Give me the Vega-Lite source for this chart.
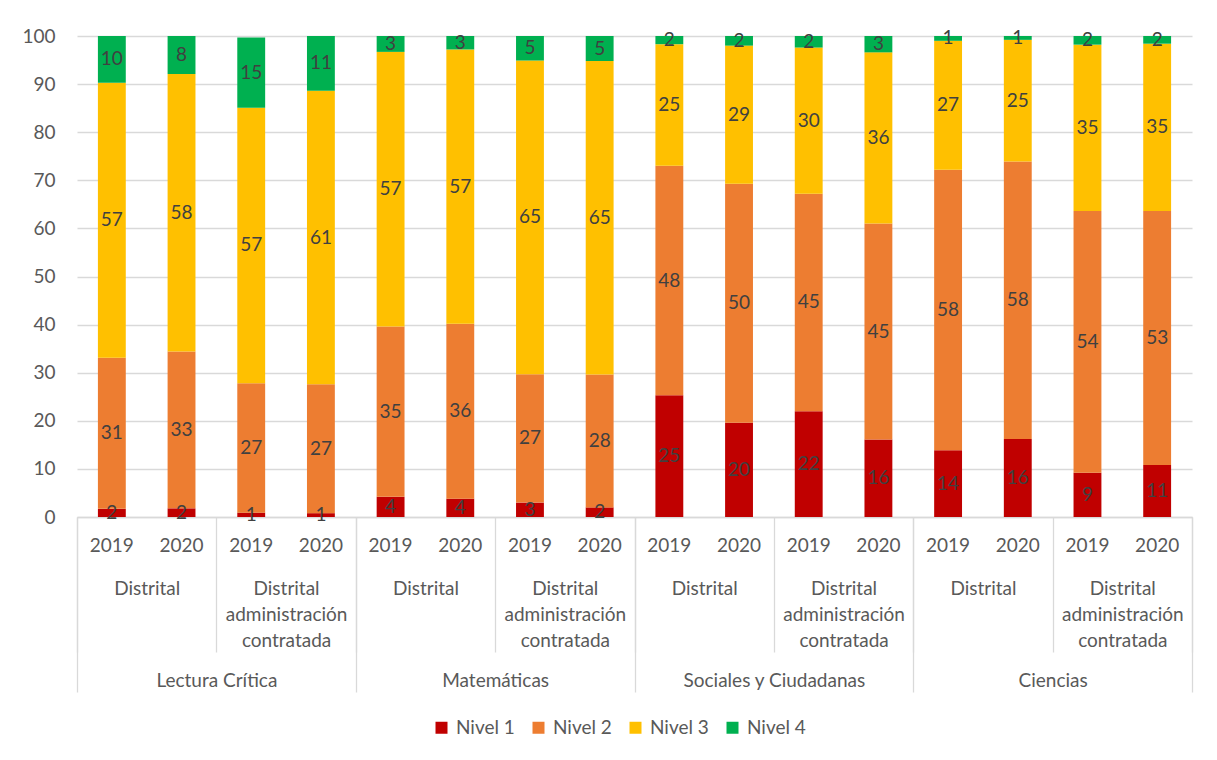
{
  "$schema": "https://vega.github.io/schema/vega-lite/v6.json",
  "width": 1115,
  "height": 481,
  "autosize": {"type": "none"},
  "padding": {"left": 77, "top": 36, "right": 25, "bottom": 243},
  "background": "white",
  "config": {
    "font": "Lato",
    "view": {"stroke": null},
    "axis": {"labelFont": "Lato", "labelFontSize": 19, "labelColor": "#595959", "title": null, "labelAngle": 0, "labelLimit": 400}
  },
  "data": {
    "values": [
      {"materia": "Lectura Crítica", "grupo": "Distrital", "anio": "2019", "nivel": "Nivel 1", "valor": 1.7},
      {"materia": "Lectura Crítica", "grupo": "Distrital", "anio": "2019", "nivel": "Nivel 2", "valor": 31.4},
      {"materia": "Lectura Crítica", "grupo": "Distrital", "anio": "2019", "nivel": "Nivel 3", "valor": 57.2},
      {"materia": "Lectura Crítica", "grupo": "Distrital", "anio": "2019", "nivel": "Nivel 4", "valor": 9.7},
      {"materia": "Lectura Crítica", "grupo": "Distrital", "anio": "2020", "nivel": "Nivel 1", "valor": 1.8},
      {"materia": "Lectura Crítica", "grupo": "Distrital", "anio": "2020", "nivel": "Nivel 2", "valor": 32.6},
      {"materia": "Lectura Crítica", "grupo": "Distrital", "anio": "2020", "nivel": "Nivel 3", "valor": 57.7},
      {"materia": "Lectura Crítica", "grupo": "Distrital", "anio": "2020", "nivel": "Nivel 4", "valor": 7.9},
      {"materia": "Lectura Crítica", "grupo": "Distrital administración contratada", "anio": "2019", "nivel": "Nivel 1", "valor": 0.9},
      {"materia": "Lectura Crítica", "grupo": "Distrital administración contratada", "anio": "2019", "nivel": "Nivel 2", "valor": 26.9},
      {"materia": "Lectura Crítica", "grupo": "Distrital administración contratada", "anio": "2019", "nivel": "Nivel 3", "valor": 57.3},
      {"materia": "Lectura Crítica", "grupo": "Distrital administración contratada", "anio": "2019", "nivel": "Nivel 4", "valor": 14.6},
      {"materia": "Lectura Crítica", "grupo": "Distrital administración contratada", "anio": "2020", "nivel": "Nivel 1", "valor": 0.8},
      {"materia": "Lectura Crítica", "grupo": "Distrital administración contratada", "anio": "2020", "nivel": "Nivel 2", "valor": 26.8},
      {"materia": "Lectura Crítica", "grupo": "Distrital administración contratada", "anio": "2020", "nivel": "Nivel 3", "valor": 61.0},
      {"materia": "Lectura Crítica", "grupo": "Distrital administración contratada", "anio": "2020", "nivel": "Nivel 4", "valor": 11.4},
      {"materia": "Matemáticas", "grupo": "Distrital", "anio": "2019", "nivel": "Nivel 1", "valor": 4.2},
      {"materia": "Matemáticas", "grupo": "Distrital", "anio": "2019", "nivel": "Nivel 2", "valor": 35.4},
      {"materia": "Matemáticas", "grupo": "Distrital", "anio": "2019", "nivel": "Nivel 3", "valor": 57.1},
      {"materia": "Matemáticas", "grupo": "Distrital", "anio": "2019", "nivel": "Nivel 4", "valor": 3.3},
      {"materia": "Matemáticas", "grupo": "Distrital", "anio": "2020", "nivel": "Nivel 1", "valor": 3.8},
      {"materia": "Matemáticas", "grupo": "Distrital", "anio": "2020", "nivel": "Nivel 2", "valor": 36.4},
      {"materia": "Matemáticas", "grupo": "Distrital", "anio": "2020", "nivel": "Nivel 3", "valor": 57.0},
      {"materia": "Matemáticas", "grupo": "Distrital", "anio": "2020", "nivel": "Nivel 4", "valor": 2.8},
      {"materia": "Matemáticas", "grupo": "Distrital administración contratada", "anio": "2019", "nivel": "Nivel 1", "valor": 3.0},
      {"materia": "Matemáticas", "grupo": "Distrital administración contratada", "anio": "2019", "nivel": "Nivel 2", "valor": 26.7},
      {"materia": "Matemáticas", "grupo": "Distrital administración contratada", "anio": "2019", "nivel": "Nivel 3", "valor": 65.2},
      {"materia": "Matemáticas", "grupo": "Distrital administración contratada", "anio": "2019", "nivel": "Nivel 4", "valor": 5.1},
      {"materia": "Matemáticas", "grupo": "Distrital administración contratada", "anio": "2020", "nivel": "Nivel 1", "valor": 2.0},
      {"materia": "Matemáticas", "grupo": "Distrital administración contratada", "anio": "2020", "nivel": "Nivel 2", "valor": 27.6},
      {"materia": "Matemáticas", "grupo": "Distrital administración contratada", "anio": "2020", "nivel": "Nivel 3", "valor": 65.2},
      {"materia": "Matemáticas", "grupo": "Distrital administración contratada", "anio": "2020", "nivel": "Nivel 4", "valor": 5.2},
      {"materia": "Sociales y Ciudadanas", "grupo": "Distrital", "anio": "2019", "nivel": "Nivel 1", "valor": 25.3},
      {"materia": "Sociales y Ciudadanas", "grupo": "Distrital", "anio": "2019", "nivel": "Nivel 2", "valor": 47.7},
      {"materia": "Sociales y Ciudadanas", "grupo": "Distrital", "anio": "2019", "nivel": "Nivel 3", "valor": 25.3},
      {"materia": "Sociales y Ciudadanas", "grupo": "Distrital", "anio": "2019", "nivel": "Nivel 4", "valor": 1.7},
      {"materia": "Sociales y Ciudadanas", "grupo": "Distrital", "anio": "2020", "nivel": "Nivel 1", "valor": 19.6},
      {"materia": "Sociales y Ciudadanas", "grupo": "Distrital", "anio": "2020", "nivel": "Nivel 2", "valor": 49.7},
      {"materia": "Sociales y Ciudadanas", "grupo": "Distrital", "anio": "2020", "nivel": "Nivel 3", "valor": 28.7},
      {"materia": "Sociales y Ciudadanas", "grupo": "Distrital", "anio": "2020", "nivel": "Nivel 4", "valor": 2.0},
      {"materia": "Sociales y Ciudadanas", "grupo": "Distrital administración contratada", "anio": "2019", "nivel": "Nivel 1", "valor": 22.0},
      {"materia": "Sociales y Ciudadanas", "grupo": "Distrital administración contratada", "anio": "2019", "nivel": "Nivel 2", "valor": 45.2},
      {"materia": "Sociales y Ciudadanas", "grupo": "Distrital administración contratada", "anio": "2019", "nivel": "Nivel 3", "valor": 30.4},
      {"materia": "Sociales y Ciudadanas", "grupo": "Distrital administración contratada", "anio": "2019", "nivel": "Nivel 4", "valor": 2.4},
      {"materia": "Sociales y Ciudadanas", "grupo": "Distrital administración contratada", "anio": "2020", "nivel": "Nivel 1", "valor": 16.1},
      {"materia": "Sociales y Ciudadanas", "grupo": "Distrital administración contratada", "anio": "2020", "nivel": "Nivel 2", "valor": 44.9},
      {"materia": "Sociales y Ciudadanas", "grupo": "Distrital administración contratada", "anio": "2020", "nivel": "Nivel 3", "valor": 35.6},
      {"materia": "Sociales y Ciudadanas", "grupo": "Distrital administración contratada", "anio": "2020", "nivel": "Nivel 4", "valor": 3.4},
      {"materia": "Ciencias", "grupo": "Distrital", "anio": "2019", "nivel": "Nivel 1", "valor": 13.9},
      {"materia": "Ciencias", "grupo": "Distrital", "anio": "2019", "nivel": "Nivel 2", "valor": 58.3},
      {"materia": "Ciencias", "grupo": "Distrital", "anio": "2019", "nivel": "Nivel 3", "valor": 26.8},
      {"materia": "Ciencias", "grupo": "Distrital", "anio": "2019", "nivel": "Nivel 4", "valor": 1.0},
      {"materia": "Ciencias", "grupo": "Distrital", "anio": "2020", "nivel": "Nivel 1", "valor": 16.2},
      {"materia": "Ciencias", "grupo": "Distrital", "anio": "2020", "nivel": "Nivel 2", "valor": 57.7},
      {"materia": "Ciencias", "grupo": "Distrital", "anio": "2020", "nivel": "Nivel 3", "valor": 25.3},
      {"materia": "Ciencias", "grupo": "Distrital", "anio": "2020", "nivel": "Nivel 4", "valor": 0.8},
      {"materia": "Ciencias", "grupo": "Distrital administración contratada", "anio": "2019", "nivel": "Nivel 1", "valor": 9.2},
      {"materia": "Ciencias", "grupo": "Distrital administración contratada", "anio": "2019", "nivel": "Nivel 2", "valor": 54.4},
      {"materia": "Ciencias", "grupo": "Distrital administración contratada", "anio": "2019", "nivel": "Nivel 3", "valor": 34.6},
      {"materia": "Ciencias", "grupo": "Distrital administración contratada", "anio": "2019", "nivel": "Nivel 4", "valor": 1.8},
      {"materia": "Ciencias", "grupo": "Distrital administración contratada", "anio": "2020", "nivel": "Nivel 1", "valor": 10.8},
      {"materia": "Ciencias", "grupo": "Distrital administración contratada", "anio": "2020", "nivel": "Nivel 2", "valor": 52.8},
      {"materia": "Ciencias", "grupo": "Distrital administración contratada", "anio": "2020", "nivel": "Nivel 3", "valor": 34.8},
      {"materia": "Ciencias", "grupo": "Distrital administración contratada", "anio": "2020", "nivel": "Nivel 4", "valor": 1.6}
    ]
  },
  "transform": [
    {"calculate": "datum.materia + '|' + datum.grupo + '|' + datum.anio", "as": "barra"},
    {"calculate": "datum.materia + '|' + datum.grupo", "as": "grp"},
    {"stack": "valor", "groupby": ["barra"], "sort": [{"field": "nivel", "order": "ascending"}], "as": ["y0", "y1"]},
    {"calculate": "(datum.y0 + datum.y1) / 2", "as": "mid"}
  ],
  "layer": [
    {
      "mark": {"type": "bar"},
      "encoding": {
        "x": {
          "field": "barra", "type": "nominal", "sort": null,
          "scale": {"type": "band", "paddingInner": 0.6, "paddingOuter": 0.3},
          "axis": {
            "orient": "bottom", "domain": false, "ticks": false, "tickSize": 0,
            "labelPadding": 19, "labelBaseline": "top",
            "labelExpr": "isString(datum.label) ? split(datum.label, '|')[2] : ''"
          }
        },
        "y": {
          "field": "y1", "type": "quantitative",
          "scale": {"domain": [0, 100], "nice": false},
          "axis": {
            "values": [0, 10, 20, 30, 40, 50, 60, 70, 80, 90, 100],
            "grid": true, "gridColor": "#d9d9d9", "gridWidth": 1.3,
            "domain": false, "ticks": false, "tickSize": 0, "labelPadding": 22
          }
        },
        "y2": {"field": "y0"},
        "color": {
          "field": "nivel", "type": "nominal",
          "scale": {"domain": ["Nivel 1", "Nivel 2", "Nivel 3", "Nivel 4"], "range": ["#C00000", "#ED7D31", "#FFC000", "#00B050"]},
          "legend": {
            "orient": "none", "legendX": 355, "legendY": 682, "direction": "horizontal",
            "title": null, "symbolType": "square", "symbolSize": 144, "symbolStrokeWidth": 0,
            "labelFontSize": 19, "labelColor": "#595959", "labelFont": "Lato",
            "columnPadding": 14, "labelOffset": 5, "padding": 0
          }
        },
        "order": {"field": "nivel", "type": "ordinal"}
      }
    },
    {
      "mark": {"type": "text", "fontSize": 19, "color": "#404040", "font": "Lato", "baseline": "middle"},
      "encoding": {
        "x": {
          "field": "barra", "type": "nominal", "sort": null,
          "scale": {"type": "band", "paddingInner": 0.6, "paddingOuter": 0.3},
          "axis": null
        },
        "y": {
          "field": "mid", "type": "quantitative",
          "axis": {
            "values": [0, 10, 20, 30, 40, 50, 60, 70, 80, 90, 100],
            "grid": true, "gridColor": "#d9d9d9", "gridWidth": 1.3,
            "domain": false, "ticks": false, "tickSize": 0, "labelPadding": 22
          }
        },
        "text": {"field": "valor", "type": "quantitative", "format": ".0f"}
      }
    },
    {
      "mark": {"type": "bar", "opacity": 0},
      "encoding": {
        "x": {
          "field": "grp", "type": "nominal", "sort": null,
          "scale": {"type": "band", "paddingInner": 0, "paddingOuter": 0},
          "axis": {
            "orient": "bottom", "domain": true, "domainColor": "#d9d9d9", "domainWidth": 1.3,
            "ticks": true, "tickBand": "extent", "tickSize": 135, "tickColor": "#d9d9d9", "tickWidth": 1.3,
            "labelPadding": -73, "labelBaseline": "top", "labelLineHeight": 26,
            "labelExpr": "!isString(datum.label) || datum.label == '' ? '' : (split(datum.label, '|')[1] == 'Distrital' ? 'Distrital' : ['Distrital', 'administración', 'contratada'])"
          }
        }
      }
    },
    {
      "mark": {"type": "bar", "opacity": 0},
      "encoding": {
        "x": {
          "field": "materia", "type": "nominal", "sort": null,
          "scale": {"type": "band", "paddingInner": 0, "paddingOuter": 0},
          "axis": {
            "orient": "bottom", "domain": false,
            "ticks": true, "tickBand": "extent", "tickSize": 175, "tickColor": "#d9d9d9", "tickWidth": 1.3,
            "labelPadding": -21, "labelBaseline": "top"
          }
        }
      }
    }
  ],
  "resolve": {"scale": {"x": "independent"}}
}
